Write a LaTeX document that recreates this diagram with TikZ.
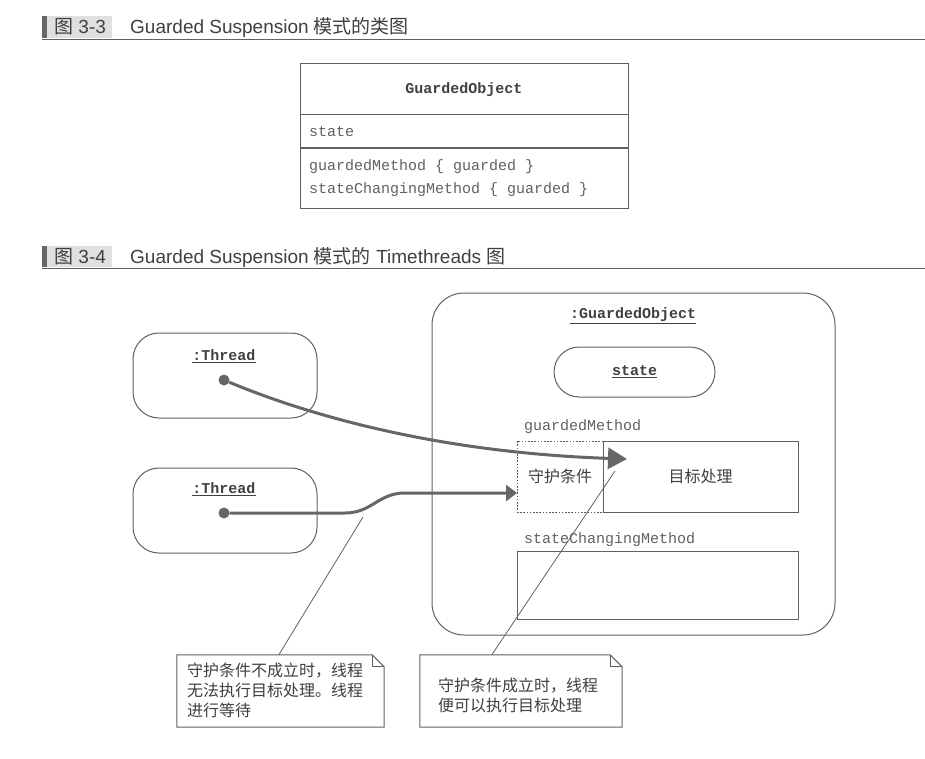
\documentclass[tikz,border=0pt]{standalone}
\usepackage{fontspec}
\setmainfont{Liberation Sans}
\newfontfamily\cjk{Noto Sans CJK SC}
\newfontfamily\mono{Liberation Mono}
\usetikzlibrary{arrows.meta,calc}
\definecolor{linegray}{gray}{0.38}
\definecolor{arrowgray}{gray}{0.40}
\definecolor{textgray}{gray}{0.25}
\definecolor{lighttext}{gray}{0.38}
\definecolor{bargray}{gray}{0.40}
\definecolor{labelbg}{gray}{0.88}
\newcommand{\lbr}{{\mono\char"7B}}
\newcommand{\rbr}{{\mono\char"7D}}
\newcommand{\msp}{\hspace*{0.6em}}
\tikzset{
  boxline/.style={draw=linegray, line width=1pt},
  clsbox/.style={boxline, rectangle, minimum width=328pt, inner sep=0pt},
  thread/.style={boxline, rectangle, rounded corners=26pt, minimum width=184pt, minimum height=85pt},
  objbox/.style={boxline, rectangle, rounded corners=32pt, minimum width=403pt, minimum height=342pt},
  statebox/.style={boxline, rectangle, rounded corners=25pt, minimum width=161pt, minimum height=50pt,
    font=\mono\bfseries\fontsize{15}{18}\selectfont, text=textgray},
  dotnode/.style={circle, fill=arrowgray, inner sep=0pt, minimum size=11pt},
  flow/.style={draw=arrowgray, line width=3pt},
  monob/.style={font=\mono\bfseries\fontsize{15}{18}\selectfont, text=textgray, inner sep=0pt},
  monot/.style={font=\mono\fontsize{15}{18}\selectfont, text=lighttext, inner sep=0pt},
  cjkt/.style={font=\cjk\fontsize{16}{20}\selectfont, text=textgray, inner sep=0pt},
  notebox/.style={rectangle, inner sep=0pt},
  notetext/.style={font=\cjk\fontsize{16}{20}\selectfont, text=textgray, inner sep=0pt, align=left},
  headt/.style={font=\fontsize{19}{23}\selectfont, text=textgray, inner sep=0pt},
  pointer/.style={draw=linegray, line width=0.8pt}
}
\begin{document}
\begin{tikzpicture}[x=1pt,y=-1pt]
\useasboundingbox (0,0) rectangle (925,759);
\fill[white] (0,0) rectangle (925,759);

% ---- header 1
\fill[labelbg] (47,16) rectangle (112,38);
\fill[bargray] (42,16) rectangle (47,38);
\draw[draw=linegray, line width=1pt] (42,39.5) -- (925,39.5);
\node[headt, anchor=base west] (h1a) at (54,34) {{\cjk 图} 3-3};
\node[headt, anchor=base west] (h1b) at (130,34) {Guarded Suspension {\cjk 模式的类图}};

% ---- class box
\node[clsbox, minimum height=51pt, monob] (ch) at (464,89.5) {GuardedObject};
\node[clsbox, minimum height=33pt, monot, text width=310pt, inner xsep=9pt, align=left] (ca) at (464,131.5) {state};
\node[clsbox, minimum height=60pt, monot, text width=310pt, inner xsep=9pt, align=left,
      font=\mono\fontsize{15}{23}\selectfont] (co) at (464,178.5)
      {guardedMethod\msp\lbr\msp{}guarded\msp\rbr\\stateChangingMethod\msp\lbr\msp{}guarded\msp\rbr};

% ---- header 2
\fill[labelbg] (47,246) rectangle (112,267);
\fill[bargray] (42,246) rectangle (47,267);
\draw[draw=linegray, line width=1pt] (42,268.5) -- (925,268.5);
\node[headt, anchor=base west] (h2a) at (54,263) {{\cjk 图} 3-4};
\node[headt, anchor=base west] (h2b) at (130,263) {Guarded Suspension {\cjk 模式的} Timethreads {\cjk 图}};

% ---- threads
\node[thread] (t1) at (225,375.5) {};
\node[monob] (t1l) at (224,356) {\underline{:Thread}};
\node[thread] (t2) at (225,510.5) {};
\node[monob] (t2l) at (224,489) {\underline{:Thread}};

% ---- guarded object
\node[objbox] (go) at (633.5,464) {};
\node[monob] (gol) at (633,316) {\underline{:GuardedObject}};
\node[statebox] (st) at (634.5,372) {\underline{state}};
\node[monot, anchor=west] (gml) at (524,427) {guardedMethod};
\node[draw=linegray, line width=1pt, dash pattern=on 1.6pt off 1.6pt, minimum width=86pt, minimum height=71pt, inner sep=0pt, cjkt] (gd) at (560,476.5) {守护条件};
\node[boxline, minimum width=195pt, minimum height=71pt, inner sep=0pt, cjkt] (tg) at (700.5,476.5) {目标处理};
\node[monot, anchor=west] (scl) at (524,540) {stateChangingMethod};
\node[boxline, minimum width=281pt, minimum height=68pt] (sc) at (657.5,585) {};

% ---- flows
\node[dotnode] (d1) at (224,380) {};
\node[dotnode] (d2) at (224,513) {};
\coordinate (e1) at (627,459);
\coordinate (e2) at (517,493);
\draw[flow, -{Triangle[length=19pt,width=21pt]}] (d1) .. controls (320,420) and (450,453) .. (e1);
\draw[flow, -{Triangle[length=11pt,width=16pt]}] (d2) -- (345,513) .. controls (372,513) and (378,493) .. (405,493) -- (e2);

% ---- notes
\node[notebox, minimum width=207pt, minimum height=72pt] (n1) at (280.5,691) {};
\draw[boxline] (n1.north west) -- ($(n1.north east)+(-12,0)$) -- ($(n1.north east)+(0,12)$) -- (n1.south east) -- (n1.south west) -- cycle;
\draw[boxline] ($(n1.north east)+(-12,0)$) |- ($(n1.north east)+(0,12)$);
\node[notetext, anchor=west] (n1t) at (187,690) {守护条件不成立时，线程\\无法执行目标处理。线程\\进行等待};

\node[notebox, minimum width=202pt, minimum height=72pt] (n2) at (521,691) {};
\draw[boxline] (n2.north west) -- ($(n2.north east)+(-12,0)$) -- ($(n2.north east)+(0,12)$) -- (n2.south east) -- (n2.south west) -- cycle;
\draw[boxline] ($(n2.north east)+(-12,0)$) |- ($(n2.north east)+(0,12)$);
\node[notetext, anchor=west] (n2t) at (438,695) {守护条件成立时，线程\\便可以执行目标处理};

% ---- pointers
\coordinate (p1) at (363,517);
\coordinate (p2) at (615,471);
\draw[pointer] ($(n1.north west)+(102,0)$) -- (p1);
\draw[pointer] ($(n2.north west)+(72,0)$) -- (p2);
\end{tikzpicture}
\end{document}
